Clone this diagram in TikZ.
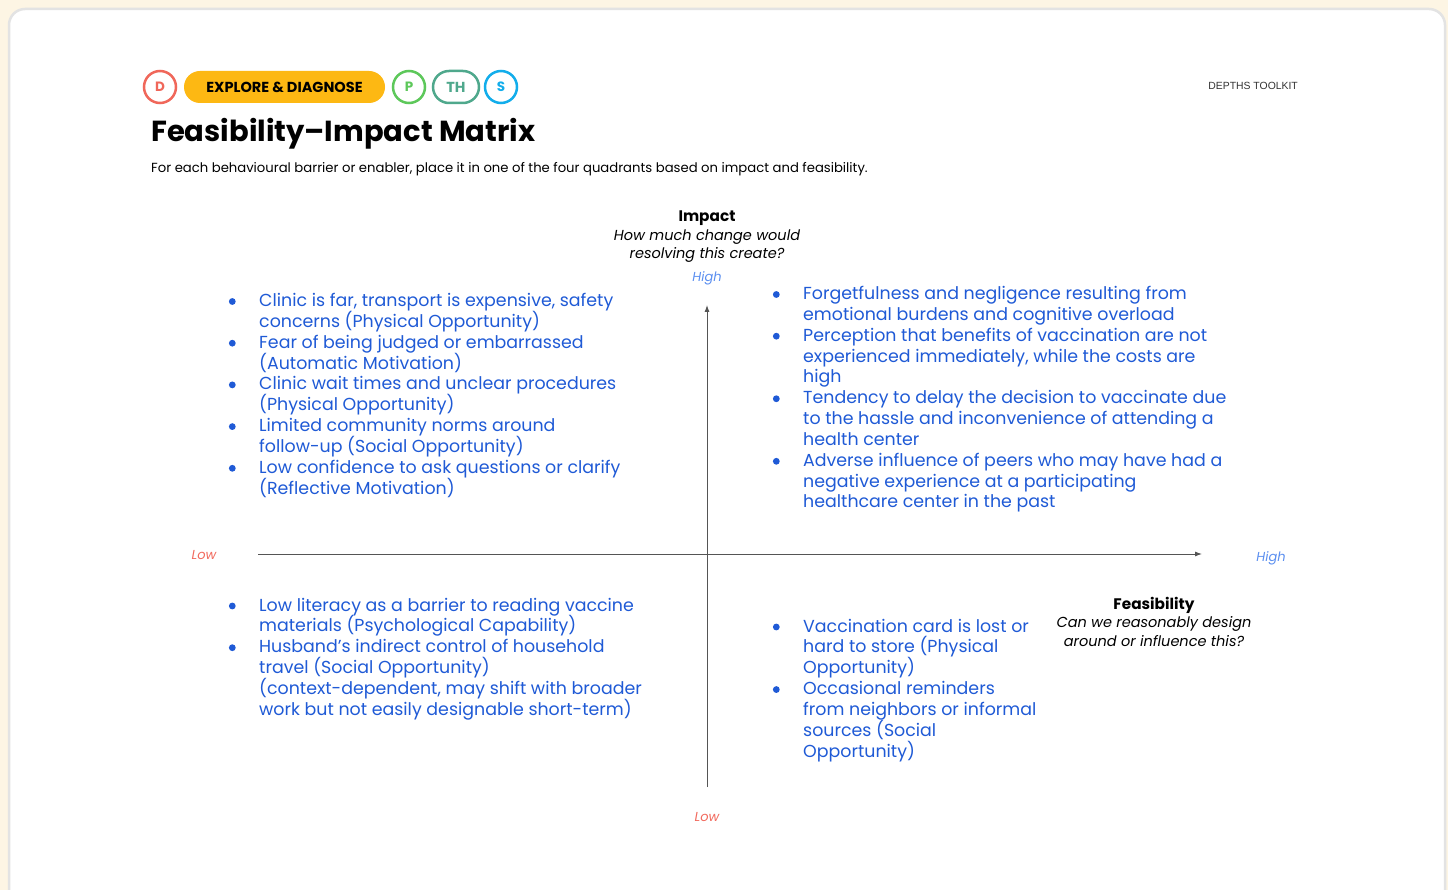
\documentclass[tikz,border=0pt]{standalone}
\usepackage{fontspec}
\setmainfont{Poppins}
\newfontfamily\toolkitfont{Liberation Sans}
\usetikzlibrary{arrows.meta}

\definecolor{pagecream}{HTML}{FDF5E4}
\definecolor{cardedge}{HTML}{E3E3E3}
\definecolor{dred}{HTML}{F0675A}
\definecolor{eyellow}{HTML}{FDB813}
\definecolor{pgreen}{HTML}{5DC85A}
\definecolor{thteal}{HTML}{4FA88C}
\definecolor{scyan}{HTML}{12ADEB}
\definecolor{itemblue}{HTML}{1F5AD6}
\definecolor{highblue}{HTML}{5B8FF0}
\definecolor{lowred}{HTML}{F26A5E}
\definecolor{axisgray}{HTML}{555555}

% two-column list: bullet column + text column, fixed line pitch
\newcommand{\itemlist}[1]{%
  \fontsize{17.4}{20.85}\selectfont
  \begin{tabular}[t]{@{}p{31pt}@{}l@{}}#1\end{tabular}}
\newcommand{\listdot}{\hspace*{0.7pt}\tikz[baseline=0pt]\fill (0pt,5pt) circle (3.4pt);}
\newcommand{\bi}[1]{\listdot & \smash{#1}\\}
\newcommand{\ci}[1]{& \smash{#1}\\}

\begin{document}
\begin{tikzpicture}[x=1pt,y=-1pt,
  ring/.style={circle, draw=#1, text=#1, line width=2.5pt, minimum size=32pt,
    inner sep=0pt, font=\fontsize{13.5}{15}\selectfont\bfseries},
  pillbox/.style={rounded corners=16pt, minimum height=32pt, inner sep=0pt,
    font=\fontsize{14.5}{16}\selectfont\bfseries},
  axisline/.style={draw=axisgray, line width=0.9pt,
    -{Latex[length=7pt,width=5pt]}},
  axistitle/.style={align=center, inner sep=0pt, anchor=north,
    font=\fontsize{14.5}{18.5}\selectfont},
  highlabel/.style={text=highblue, inner sep=0pt, anchor=mid,
    font=\fontsize{13}{15}\selectfont\itshape},
  lowlabel/.style={text=lowred, inner sep=0pt, anchor=mid,
    font=\fontsize{13}{15}\selectfont\itshape},
  quadrant/.style={text=itemblue, inner sep=0pt, anchor=base west},
]
\useasboundingbox (0,0) rectangle (1448,890);

% page and card
\fill[pagecream] (0,0) rectangle (1448,890);
\draw[cardedge, line width=2.5pt, fill=white, rounded corners=16pt]
  (9,9) rectangle (1445,930);

% phase badges
\node[ring=dred] (badgeD) at (160,87) {D};
\node[pillbox, fill=eyellow, minimum width=201pt] (badgeExplore) at (284.5,87)
  {EXPLORE \& DIAGNOSE};
\node[ring=pgreen] (badgeP) at (409,87) {P};
\node[pillbox, draw=thteal, text=thteal, line width=2.5pt, minimum width=46pt]
  (badgeTH) at (456,87) {TH};
\node[ring=scyan] (badgeS) at (501,87) {S};

\node[anchor=base east, inner sep=0pt, text=black!80,
  font=\toolkitfont\fontsize{10.4}{12}\selectfont] (toolkit) at (1298,89.5)
  {DEPTHS TOOLKIT};

% heading
\node[anchor=base west, inner sep=0pt, font=\fontsize{29}{33}\selectfont\bfseries]
  (title) at (151,142) {Feasibility–Impact Matrix};
\node[anchor=base west, inner sep=0pt, font=\fontsize{13.2}{16}\selectfont]
  (subtitle) at (151,173)
  {For each behavioural barrier or enabler, place it in one of the four quadrants based on impact and feasibility.};

% axes
\coordinate (vbot) at (707,787);
\coordinate (vtop) at (707,305);
\coordinate (hleft) at (258,554);
\coordinate (hright) at (1202,554);
\draw[axisline] (vbot) -- (vtop);
\draw[axisline] (hleft) -- (hright);

% axis titles and ends
\node[axistitle] (impact) at (707,211)
  {{\fontsize{15.3}{18.5}\selectfont\bfseries Impact}\\
   {\itshape How much change would}\\
   {\itshape resolving this create?}};
\node[axistitle] (feasibility) at (1154,597)
  {{\fontsize{15.3}{18.5}\selectfont\bfseries Feasibility}\\
   {\itshape Can we reasonably design}\\
   {\itshape around or influence this?}};
\node[highlabel] (impHigh) at (707,279) {High};
\node[lowlabel] (impLow) at (707,819) {Low};
\node[lowlabel] (feasLow) at (204,557) {Low};
\node[highlabel] (feasHigh) at (1271,559) {High};

% quadrant contents
\node[quadrant] (qTL) at (228,306.5) {\itemlist{%
  \bi{Clinic is far, transport is expensive, safety}
  \ci{concerns (Physical Opportunity)}
  \bi{Fear of being judged or embarrassed}
  \ci{(Automatic Motivation)}
  \bi{Clinic wait times and unclear procedures}
  \ci{(Physical Opportunity)}
  \bi{Limited community norms around}
  \ci{follow-up (Social Opportunity)}
  \bi{Low confidence to ask questions or clarify}
  \ci{(Reflective Motivation)}}};

\node[quadrant] (qTR) at (772,299.5) {\itemlist{%
  \bi{Forgetfulness and negligence resulting from}
  \ci{emotional burdens and cognitive overload}
  \bi{Perception that benefits of vaccination are not}
  \ci{experienced immediately, while the costs are}
  \ci{high}
  \bi{Tendency to delay the decision to vaccinate due}
  \ci{to the hassle and inconvenience of attending a}
  \ci{health center}
  \bi{Adverse influence of peers who may have had a}
  \ci{negative experience at a participating}
  \ci{healthcare center in the past}}};

\node[quadrant] (qBL) at (228,611) {\itemlist{%
  \bi{Low literacy as a barrier to reading vaccine}
  \ci{materials (Psychological Capability)}
  \bi{Husband’s indirect control of household}
  \ci{travel (Social Opportunity)}
  \ci{(context-dependent, may shift with broader}
  \ci{work but not easily designable short-term)}}};

\node[quadrant] (qBR) at (772,632) {\itemlist{%
  \bi{Vaccination card is lost or}
  \ci{hard to store (Physical}
  \ci{Opportunity)}
  \bi{Occasional reminders}
  \ci{from neighbors or informal}
  \ci{sources (Social}
  \ci{Opportunity)}}};
\end{tikzpicture}
\end{document}
